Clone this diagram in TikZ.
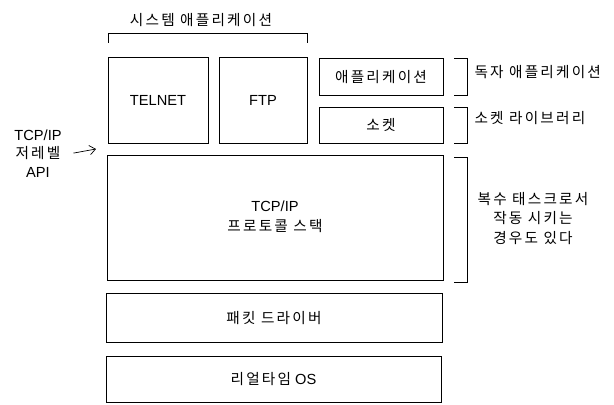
\documentclass[tikz,border=0pt]{standalone}
\usepackage{fontspec}
\setmainfont{Liberation Sans}
\newfontfamily\kr[LetterSpace=15]{Noto Sans CJK KR}
\newcommand{\kt}[1]{{\kr\smash{#1}}\rule{0pt}{0.76em}}
\newcommand{\lines}[2][1.25]{\renewcommand{\arraystretch}{#1}\begin{tabular}{@{}c@{}}#2\end{tabular}}
\newcommand{\layer}[6]{
	\node [layer, minimum width=#4*0.03cm, minimum height=#5*0.03cm] (#1) at (#2,#3) {#6};}
\usetikzlibrary{arrows.meta}
\tikzset{
	layer/.style={draw, inner sep=0pt},
	bracket/.style={draw, line width=0.6pt},
	note/.style={inner sep=1pt},
}

\begin{document}
\begin{tikzpicture}[x=0.03cm,y=-0.03cm,line width=0.6pt,
	>={Straight Barb[length=5pt,width=8pt]},
	font=\fontsize{12.5}{15}\selectfont]
	\useasboundingbox (0,0) rectangle (614,405);
	% layers
	\layer{telnet}{158}{100}{100}{86}{TELNET}
	\layer{ftp}{263}{100}{88}{86}{FTP}
	\layer{app}{381}{76.5}{124}{37}{\kt{애플리케이션}}
	\layer{sock}{381}{125}{124}{36}{\kt{소켓}}
	\layer{stack}{275}{217.5}{336}{125}{\lines[1.13]{TCP/IP\\\kt{프로토콜 스택}}}
	\layer{drv}{274}{317.5}{336}{49}{\kt{패킷 드라이버}}
	\layer{rtos}{273.5}{379}{335}{46}{\kt{리얼타임} OS}
	% brackets
	\draw [bracket] (108,43) -- (108,33) -- (307,33) -- (307,43);
	\draw [bracket] (454,58) -- (467,58) -- (467,95) -- (454,95);
	\draw [bracket] (454,107) -- (467,107) -- (467,143) -- (454,143);
	\draw [bracket] (454,157) -- (467,157) -- (467,282) -- (454,282);
	% labels
	\node [note] (sysapp) at (201,20) {\kt{시스템 애플리케이션}};
	\node [note, anchor=west] (own) at (473,72) {\kt{독자 애플리케이션}};
	\node [note, anchor=west] (lib) at (473,118) {\kt{소켓 라이브러리}};
	\node [note] (multi) at (533,220)
		{\lines[1.1]{\kt{복수 태스크로서}\\\kt{작동 시키는}\\\kt{경우도 있다}}};
	\node [note] (api) at (38,155)
		{\lines[1.05]{TCP/IP\\\kt{저레벨}\\API}};
	\coordinate (apitip) at (96,149);
	\draw [->, shorten <=9pt] (api.east) -- (apitip);
\end{tikzpicture}
\end{document}
